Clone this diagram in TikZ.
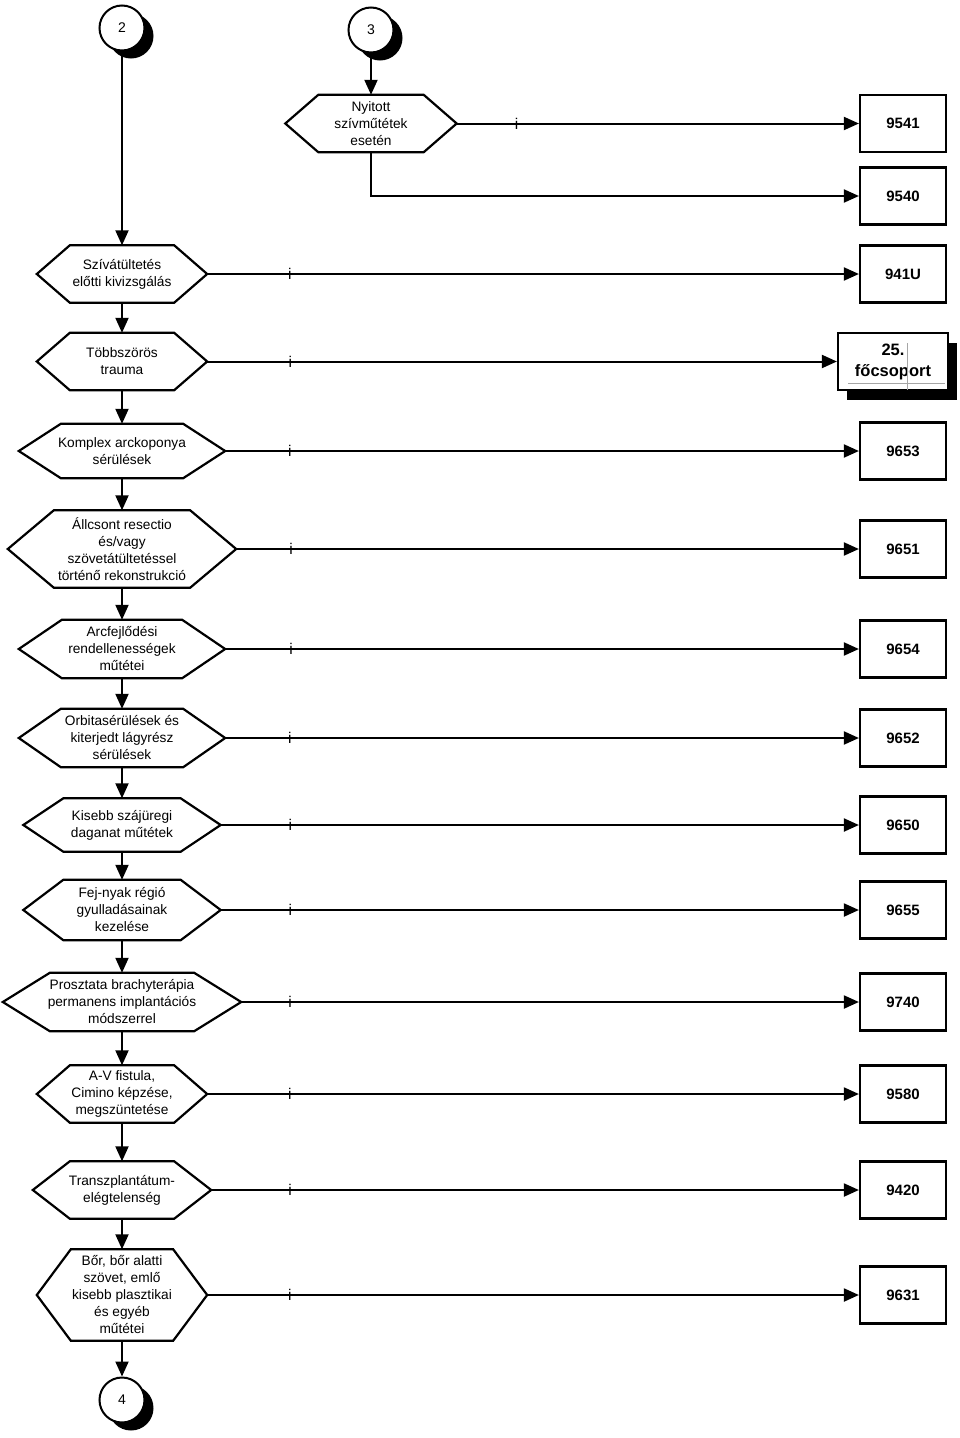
\documentclass[tikz,border=0pt]{standalone}
\usepackage{fontspec}
\setmainfont{Liberation Sans}
\usetikzlibrary{arrows.meta,shadows}
\tikzset{
  hexbox/.style={draw=none, inner sep=0pt, align=center, font=\fontsize{13.7}{17}\selectfont},
  hexline/.style={line width=2.2pt, line join=miter},
  numbox/.style={draw, line width=2.2pt, fill=white, minimum width=86pt, minimum height=57pt, inner sep=0pt, font=\fontsize{15}{18}\selectfont\bfseries},
  conn/.style={line width=2pt, -{Triangle[length=15pt,width=13pt]}},
  ilab/.style={inner sep=0pt, font=\fontsize{15.5}{17}\selectfont},
  conncirc/.style={circle, draw, line width=2pt, fill=white, minimum size=45pt, inner sep=0pt, font=\fontsize{14}{16}\selectfont,
    drop shadow={fill=black, opacity=1, shadow xshift=9pt, shadow yshift=-8pt}},
}
\newcommand\hexa[7]{%
  \node[hexbox, minimum width=#4pt, minimum height=#5pt] (#1) at (#2,#3) {#7};
  \draw[hexline] (#1.west) -- ([xshift=#6pt]#1.north west) -- ([xshift=-#6pt]#1.north east) -- (#1.east)
     -- ([xshift=-#6pt]#1.south east) -- ([xshift=#6pt]#1.south west) -- cycle;}
\begin{document}
\begin{tikzpicture}[x=1pt,y=-1pt]
\useasboundingbox (0,0) rectangle (960,1438);

% connector circles
\node[conncirc] (c2) at (122,28) {2};
\node[conncirc] (c3) at (371,30) {3};
\node[conncirc] (c4) at (122,1400) {4};

% hexagons
\hexa{nyit}{371}{123.5}{171}{57}{33}{Nyitott\\szívműtétek\\esetén}
\hexa{h1}{122}{274}{170}{57}{33}{Szívátültetés\\előtti kivizsgálás}
\hexa{h2}{122}{361.5}{170}{57}{33}{Többszörös\\trauma}
\hexa{h3}{122}{451}{206}{54}{42}{Komplex arckoponya\\sérülések}
\hexa{h4}{122}{549}{228}{77}{46}{Állcsont resectio\\és/vagy\\szövetátültetéssel\\történő rekonstrukció}
\hexa{h5}{122}{649}{206}{58}{43}{Arcfejlődési\\rendellenességek\\műtétei}
\hexa{h6}{122}{738}{206}{58}{42}{Orbitasérülések és\\kiterjedt lágyrész\\sérülések}
\hexa{h7}{122}{825}{197}{53}{40}{Kisebb szájüregi\\daganat műtétek}
\hexa{h8}{122}{910}{197}{60}{40}{Fej-nyak régió\\gyulladásainak\\kezelése}
\hexa{h9}{122}{1002}{238}{58}{47}{Prosztata brachyterápia\\permanens implantációs\\módszerrel}
\hexa{h10}{122}{1094}{170}{57}{33}{A-V fistula,\\Cimino képzése,\\megszüntetése}
\hexa{h11}{122}{1190}{178}{57}{37}{Transzplantátum-\\elégtelenség}
\hexa{h12}{122}{1295}{170}{91}{34}{Bőr, bőr alatti\\szövet, emlő\\kisebb plasztikai\\és egyéb\\műtétei}

% result boxes
\node[numbox] (b9541) at (903,123.5) {9541};
\node[numbox] (b9540) at (903,196) {9540};
\node[numbox] (b941U) at (903,274) {941U};
\node[numbox, minimum width=110pt, align=center, font=\fontsize{16.5}{21}\selectfont\bfseries,
  drop shadow={fill=black, opacity=1, shadow xshift=9pt, shadow yshift=-10pt}] (b25) at (893,361.5) {25.\\főcsoport};
\draw[gray!70, line width=0.5pt] (907,343) -- (907,390);
\draw[gray!70, line width=0.5pt] (848,383) -- (945,383);
\node[numbox] (b9653) at (903,451) {9653};
\node[numbox] (b9651) at (903,549) {9651};
\node[numbox] (b9654) at (903,649) {9654};
\node[numbox] (b9652) at (903,738) {9652};
\node[numbox] (b9650) at (903,825) {9650};
\node[numbox] (b9655) at (903,910) {9655};
\node[numbox] (b9740) at (903,1002) {9740};
\node[numbox] (b9580) at (903,1094) {9580};
\node[numbox] (b9420) at (903,1190) {9420};
\node[numbox] (b9631) at (903,1295) {9631};

% vertical flow
\draw[conn] (c2) -- (h1.north);
\draw[conn] (c3) -- (nyit.north);
\draw[conn] (h1.south) -- (h2.north);
\draw[conn] (h2.south) -- (h3.north);
\draw[conn] (h3.south) -- (h4.north);
\draw[conn] (h4.south) -- (h5.north);
\draw[conn] (h5.south) -- (h6.north);
\draw[conn] (h6.south) -- (h7.north);
\draw[conn] (h7.south) -- (h8.north);
\draw[conn] (h8.south) -- (h9.north);
\draw[conn] (h9.south) -- (h10.north);
\draw[conn] (h10.south) -- (h11.north);
\draw[conn] (h11.south) -- (h12.north);
\draw[conn] (h12.south) -- (c4);

% horizontal links
\draw[conn] (nyit.east) -- node[ilab, pos=0.149] {i} (b9541.west);
\draw[conn] (nyit.south) |- (b9540.west);
\draw[conn] (h1.east) -- node[ilab, pos=0.127] {i} (b941U.west);
\draw[conn] (h2.east) -- node[ilab, pos=0.132] {i} (b25.west);
\draw[conn] (h3.east) -- node[ilab, pos=0.102] {i} (b9653.west);
\draw[conn] (h4.east) -- node[ilab, pos=0.088] {i} (b9651.west);
\draw[conn] (h5.east) -- node[ilab, pos=0.104] {i} (b9654.west);
\draw[conn] (h6.east) -- node[ilab, pos=0.102] {i} (b9652.west);
\draw[conn] (h7.east) -- node[ilab, pos=0.109] {i} (b9650.west);
\draw[conn] (h8.east) -- node[ilab, pos=0.109] {i} (b9655.west);
\draw[conn] (h9.east) -- node[ilab, pos=0.079] {i} (b9740.west);
\draw[conn] (h10.east) -- node[ilab, pos=0.127] {i} (b9580.west);
\draw[conn] (h11.east) -- node[ilab, pos=0.122] {i} (b9420.west);
\draw[conn] (h12.east) -- node[ilab, pos=0.127] {i} (b9631.west);
\end{tikzpicture}
\end{document}
